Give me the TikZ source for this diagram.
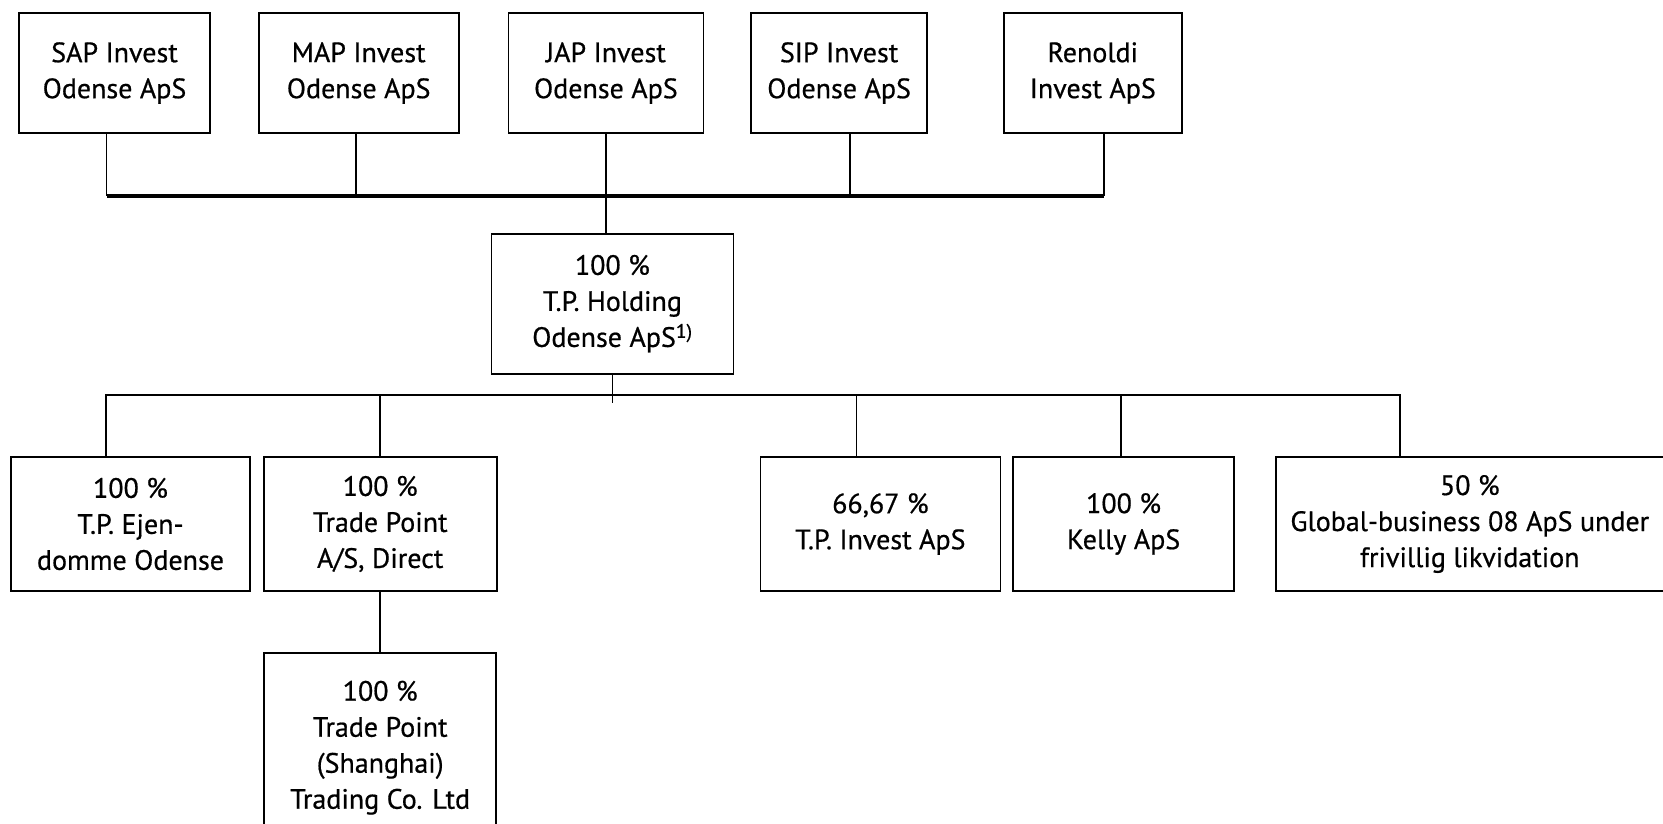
\documentclass[tikz,border=0pt]{standalone}
\usepackage{fontspec}
\setmainfont{PT Sans}[FakeBold=0.6]
\usetikzlibrary{positioning}

\begin{document}
\begin{tikzpicture}[x=1pt, y=1pt,
    node distance=49pt and 49pt,
    box/.style={draw, line width=1.7pt, inner sep=0pt, align=center,
                minimum height=120pt, font=\fontsize{28}{36}\selectfont},
    link/.style={line width=1.8pt},
    hairline/.style={line width=1pt},
    topbus/.style={line width=3.8pt},
    midbus/.style={line width=2.6pt}
]
\useasboundingbox (0,0) rectangle (1663,-823);

% ── Owners (top row) ──
\node[box, minimum width=191pt] (sap) at (114.5,-73) {SAP Invest\\Odense ApS};
\node[box, minimum width=200pt, right=47pt of sap] (map) {MAP Invest\\Odense ApS};
\node[box, minimum width=195pt, right=48pt of map] (jap) {JAP Invest\\Odense ApS};
\node[box, minimum width=176pt, right=46pt of jap] (sip) {SIP Invest\\Odense ApS};
\node[box, minimum width=178pt, right=75pt of sip] (ren) {Renoldi\\Invest ApS};

% ── Holding ──
\node[box, minimum width=242pt, minimum height=140pt, below=99pt of jap, xshift=6.5pt] (hold)
    {100 \%\\T.P. Holding\\Odense ApS\textsuperscript{1)}};

% ── Subsidiaries ──
\node[box, minimum width=239pt, minimum height=134pt] (ejen) at (130.5,-524) {100 \%\\T.P. Ejen-\\domme Odense};
\node[box, minimum width=233pt, minimum height=134pt, right=12pt of ejen] (tpas) {100 \%\\Trade Point\\A/S, Direct};
\node[box, minimum width=240pt, minimum height=134pt, right=262pt of tpas] (tpinv) {66,67 \%\\T.P. Invest ApS};
\node[box, minimum width=221pt, minimum height=134pt, right=11pt of tpinv] (kelly) {100 \%\\Kelly ApS};
\node[box, minimum width=388pt, minimum height=134pt, right=40pt of kelly] (glob)
    {50 \%\\Global-business 08 ApS under\\frivillig likvidation};
\node[box, minimum width=232pt, minimum height=190pt, below=60pt of tpas] (shang)
    {100 \%\\Trade Point\\(Shanghai)\\Trading Co. Ltd};

% ── Bus levels ──
\coordinate (upbus) at (0,-196);
\coordinate (lowbus) at (0,-395);

% ── Owners to holding ──
\draw[link] ([xshift=-8pt]sap.south) -- ([xshift=-8pt]sap.south |- upbus);
\draw[link] ([xshift=-3pt]map.south) -- ([xshift=-3pt]map.south |- upbus);
\draw[link] (jap.south) -- (jap.south |- hold.north);
\draw[link] ([xshift=11pt]sip.south) -- ([xshift=11pt]sip.south |- upbus);
\draw[link] ([xshift=11pt]ren.south) -- ([xshift=11pt]ren.south |- upbus);
\draw[topbus] ([xshift=-8pt]sap.south |- upbus) -- ([xshift=11pt]ren.south |- upbus);

% ── Holding to subsidiaries ──
\draw[hairline] (hold.south) -- ++(0,-28);
\draw[midbus] ([xshift=-24.5pt]ejen.north) -- ([xshift=-24.5pt]ejen.north |- lowbus)
    -| ([xshift=-70pt]glob.north);
\draw[link] (tpas.north) -- (tpas.north |- lowbus);
\draw[link] ([xshift=-24pt]tpinv.north) -- ([xshift=-24pt]tpinv.north |- lowbus);
\draw[link] ([xshift=-2.5pt]kelly.north) -- ([xshift=-2.5pt]kelly.north |- lowbus);
\draw[link] (tpas.south) -- (shang.north);

\end{tikzpicture}
\end{document}
